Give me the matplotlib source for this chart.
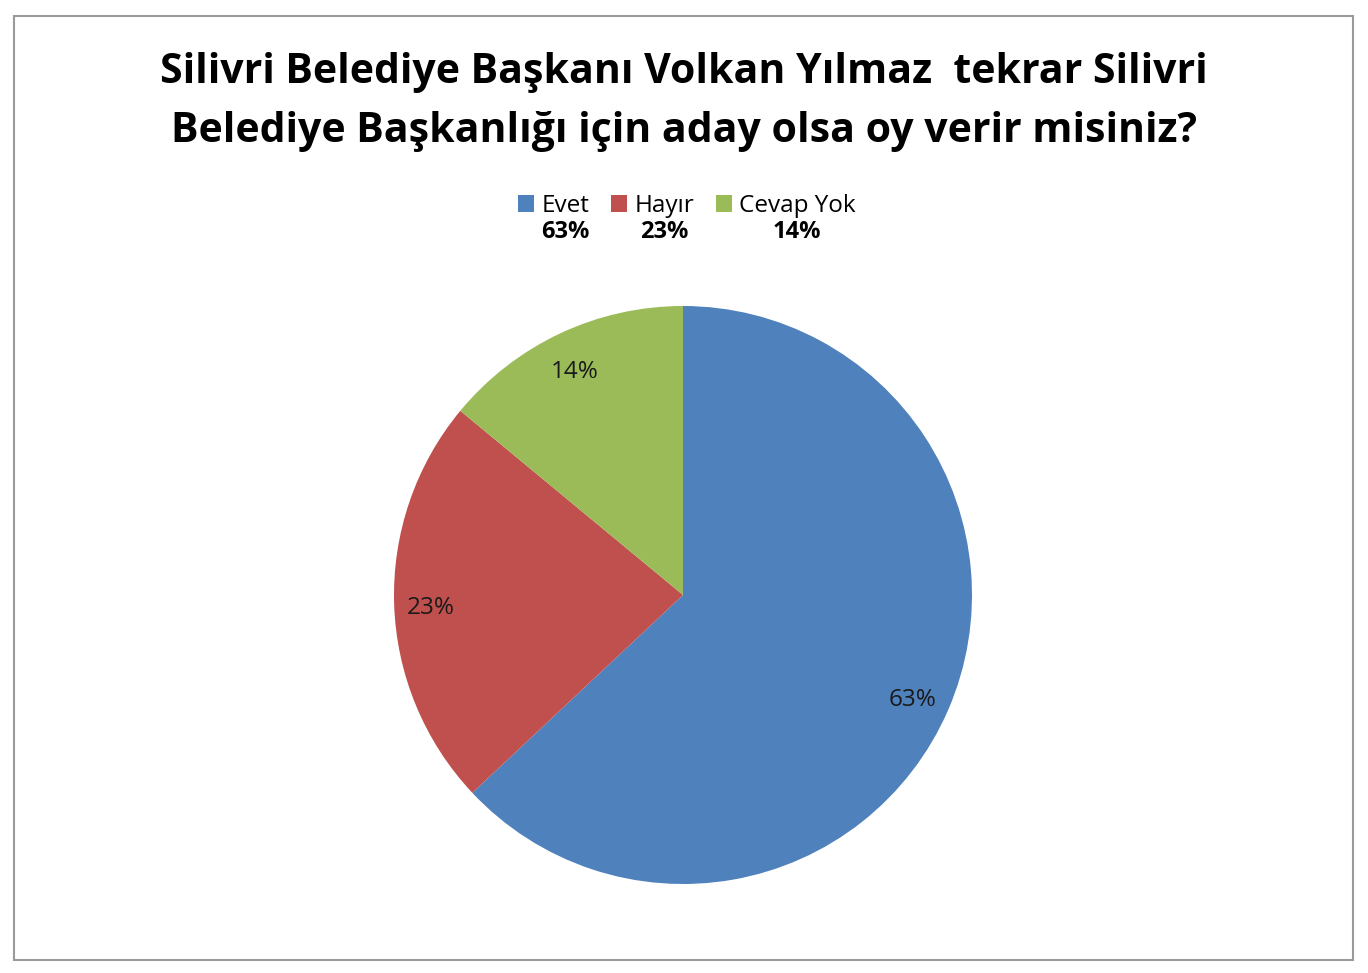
import matplotlib.pyplot as plt
import matplotlib.transforms as mtransforms
from matplotlib.patches import Rectangle

labels = ['Evet', 'Hayır', 'Cevap Yok']
values = [63, 23, 14]
colors = ['#4F81BD', '#C0504D', '#9BBB59']
title = 'Silivri Belediye Başkanı Volkan Yılmaz  tekrar Silivri\nBelediye Başkanlığı için aday olsa oy verir misiniz?'

plt.rcParams['font.family'] = ['Open Sans', 'DejaVu Sans']

W, H = 1368, 973
fig = plt.figure(figsize=(W / 100, H / 100), dpi=100)

# outer chart border
fig.patches.append(Rectangle((14 / W, 1 - 960 / H), (1353 - 14) / W, (960 - 16) / H,
                             transform=fig.transFigure, fill=False,
                             edgecolor='#9a9a9a', linewidth=1.5))

fig.text(684 / W, 1 - 102 / H, title, ha='center', va='center', fontsize=29.5,
         fontweight='bold', linespacing=1.55)

# pie axes: centre (683, 595), radius 289 px
cx, cy, r = 683, 595, 289
ax = fig.add_axes([(cx - r) / W, 1 - (cy + r) / H, 2 * r / W, 2 * r / H])
wedges, texts, autotexts = ax.pie(values, colors=colors, startangle=90, counterclock=False,
                                  autopct='%d%%', pctdistance=0.87, radius=1,
                                  wedgeprops=dict(linewidth=0),
                                  textprops=dict(fontsize=17.5, color='#1a1a1a'))
# nudge labels down a little (font metrics differ from the original)
shift = mtransforms.offset_copy(ax.transData, fig=fig, x=-1, y=-5, units='dots')
for t in autotexts:
    t.set_transform(shift)
ax.set_xlim(-1, 1)
ax.set_ylim(-1, 1)
ax.set_aspect('equal')
ax.axis('off')

leg = fig.legend(wedges, labels, loc='center', bbox_to_anchor=(687 / W, 1 - 206 / H),
                 ncol=3, frameon=False, fontsize=17.5, handlelength=0.65, handleheight=0.65,
                 handletextpad=0.3, columnspacing=0.9, borderpad=0)

fig.canvas.draw()
renderer = fig.canvas.get_renderer()
inv = fig.transFigure.inverted()
for t, v in zip(leg.get_texts(), values):
    bb = t.get_window_extent(renderer)
    x = inv.transform(((bb.x0 + bb.x1) / 2, 0))[0]
    fig.text(x, 1 - 232 / H, f'{v}%', ha='center', va='center', fontsize=17,
             fontweight='bold')

fig.savefig('out.png', dpi=100, facecolor='white')
